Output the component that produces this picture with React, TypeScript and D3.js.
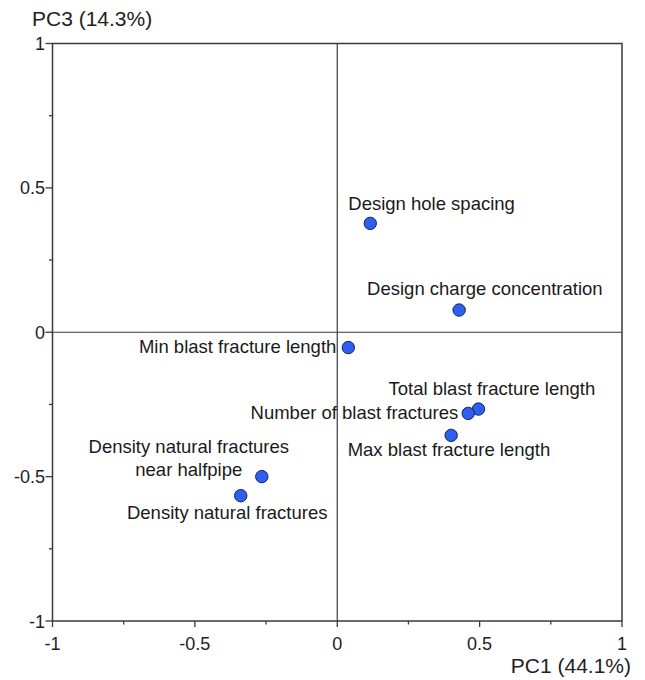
import React from "react";
import * as d3 from "d3";

const variables = [
  "Design hole spacing",
  "Design charge concentration",
  "Min blast fracture length",
  "Total blast fracture length",
  "Number of blast fractures",
  "Max blast fracture length",
  "Density natural fractures\nnear halfpipe",
  "Density natural fractures",
];
const pc1Values = [0.116, 0.428, 0.039, 0.496, 0.46, 0.4, -0.265, -0.339];
const pc3Values = [0.377, 0.077, -0.053, -0.266, -0.281, -0.357, -0.5, -0.566];
const majorTicks = [-1, -0.5, 0, 0.5, 1];
const minorTicks = [-0.75, -0.25, 0.25, 0.75];
const xTitle = "PC1 (44.1%)";
const yTitle = "PC3 (14.3%)";

// label placement (layout only)
const labelLayout: { dx: number; dy: number; anchor: string }[] = [
  { dx: -22, dy: -13, anchor: "start" },
  { dx: -92, dy: -15, anchor: "start" },
  { dx: -12, dy: 5, anchor: "end" },
  { dx: -90, dy: -14, anchor: "start" },
  { dx: -10, dy: 6, anchor: "end" },
  { dx: -103.5, dy: 21, anchor: "start" },
  { dx: -73, dy: -0.7, anchor: "middle" },
  { dx: -13.5, dy: 23, anchor: "middle" },
];

const W = 645;
const H = 680;
const left = 52.5;
const right = 622;
const top = 43.5;
const bottom = 621;
const font = "'Liberation Sans', Arial, sans-serif";
const axisColor = "#3a3a3a";

export default function App() {
  const x = d3.scaleLinear().domain([-1, 1]).range([left, right]);
  const y = d3.scaleLinear().domain([-1, 1]).range([bottom, top]);
  const fmt = (v: number) => (v === 0 ? "0" : String(v));

  return (
    <svg
      width={W}
      height={H}
      style={{ position: "absolute", left: 0, top: 0, background: "#fff" }}
      fontFamily={font}
    >
      <rect x={0} y={0} width={W} height={H} fill="#fff" />
      {/* zero lines */}
      <line x1={x(0)} x2={x(0)} y1={top} y2={bottom} stroke={axisColor} strokeWidth={1.2} />
      <line x1={left} x2={right} y1={y(0)} y2={y(0)} stroke={axisColor} strokeWidth={1.2} />
      {/* frame */}
      <rect
        x={left}
        y={top}
        width={right - left}
        height={bottom - top}
        fill="none"
        stroke={axisColor}
        strokeWidth={1.5}
      />
      {/* x ticks */}
      {majorTicks.map((t) => (
        <g key={"xt" + t}>
          <line x1={x(t)} x2={x(t)} y1={bottom} y2={bottom + 6} stroke={axisColor} strokeWidth={1.3} />
          <text x={x(t)} y={650} fontSize={18} textAnchor="middle" fill="#222">
            {fmt(t)}
          </text>
        </g>
      ))}
      {minorTicks.map((t) => (
        <line key={"xm" + t} x1={x(t)} x2={x(t)} y1={bottom} y2={bottom + 3.5} stroke={axisColor} strokeWidth={1.3} />
      ))}
      {/* y ticks */}
      {majorTicks.map((t) => (
        <g key={"yt" + t}>
          <line x1={left - 7} x2={left} y1={y(t)} y2={y(t)} stroke={axisColor} strokeWidth={1.3} />
          <text x={45} y={y(t) + 6.5} fontSize={18} textAnchor="end" fill="#222">
            {fmt(t)}
          </text>
        </g>
      ))}
      {minorTicks.map((t) => (
        <line key={"ym" + t} x1={left - 3.5} x2={left} y1={y(t)} y2={y(t)} stroke={axisColor} strokeWidth={1.3} />
      ))}
      {/* axis titles */}
      <text x={32} y={26} fontSize={21} fill="#222">
        {yTitle}
      </text>
      <text x={631} y={673} fontSize={21} textAnchor="end" fill="#222">
        {xTitle}
      </text>
      {/* points */}
      {variables.map((v, i) => (
        <circle
          key={"p" + i}
          cx={x(pc1Values[i])}
          cy={y(pc3Values[i])}
          r={6.2}
          fill="#2e5ff5"
          stroke="#1b2050"
          strokeWidth={1}
        />
      ))}
      {/* labels */}
      {variables.map((v, i) => {
        const lines = v.split("\n");
        const L = labelLayout[i];
        const px = x(pc1Values[i]) + L.dx;
        const py = y(pc3Values[i]) + L.dy;
        return (
          <text key={"l" + i} fontSize={18.5} fill="#1a1a1a" textAnchor={L.anchor}>
            {lines.map((ln, j) => (
              <tspan key={j} x={px} y={py - (lines.length - 1 - j) * 23}>
                {ln}
              </tspan>
            ))}
          </text>
        );
      })}
    </svg>
  );
}
